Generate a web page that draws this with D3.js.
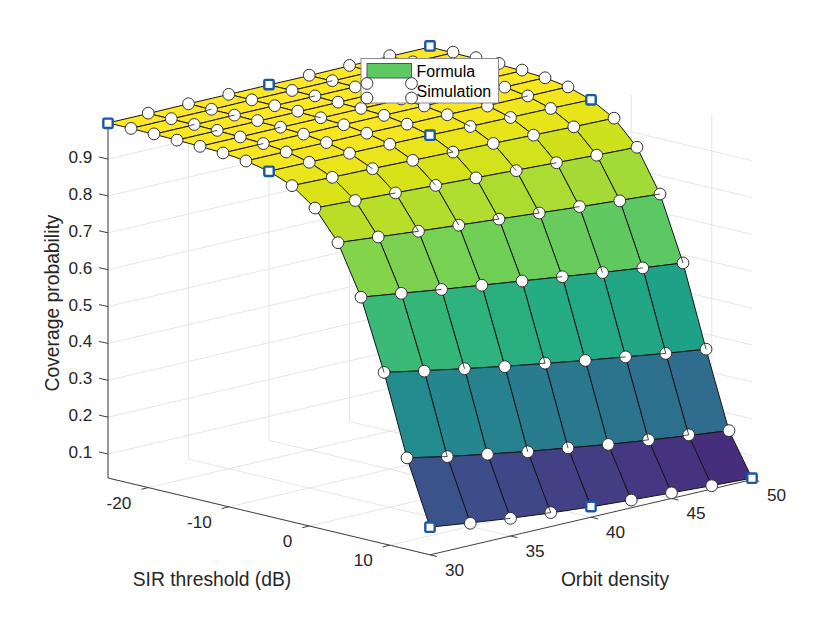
<!DOCTYPE html>
<html>
<head>
<meta charset="utf-8">
<script src="https://cdn.jsdelivr.net/npm/d3@7"></script>
<style>
  body { margin: 0; background: #fff; }
  text { font-family: "Liberation Sans", Arial, sans-serif; fill: #262626; }
</style>
</head>
<body>
<svg id="chart" width="830" height="623"></svg>
<script>
const sirValues = [-25, -22.14, -19.29, -16.43, -13.57, -10.71, -7.86, -5, -2.14, 0.71, 3.57, 6.43, 9.29, 12.14, 15];
const densityValues = [30, 32.5, 35, 37.5, 40, 42.5, 45, 47.5, 50];

// rows follow sirValues, columns follow densityValues
const formulaRows = [
  [0.998, 0.998, 0.999, 0.999, 0.999, 0.999, 1.000, 1.000, 1.000],
  [0.998, 0.998, 0.998, 0.999, 0.999, 0.999, 0.999, 0.999, 0.999],
  [0.997, 0.997, 0.998, 0.998, 0.998, 0.998, 0.998, 0.998, 0.998],
  [0.996, 0.996, 0.996, 0.996, 0.996, 0.997, 0.997, 0.997, 0.997],
  [0.994, 0.994, 0.994, 0.994, 0.994, 0.994, 0.994, 0.995, 0.995],
  [0.991, 0.991, 0.991, 0.991, 0.991, 0.991, 0.991, 0.991, 0.991],
  [0.984, 0.984, 0.983, 0.983, 0.982, 0.982, 0.981, 0.981, 0.981],
  [0.971, 0.970, 0.969, 0.968, 0.967, 0.965, 0.964, 0.963, 0.961],
  [0.947, 0.944, 0.942, 0.939, 0.936, 0.934, 0.931, 0.928, 0.926],
  [0.901, 0.896, 0.891, 0.886, 0.881, 0.876, 0.871, 0.866, 0.862],
  [0.822, 0.812, 0.802, 0.793, 0.784, 0.775, 0.766, 0.758, 0.750],
  [0.689, 0.674, 0.659, 0.645, 0.631, 0.617, 0.603, 0.590, 0.578],
  [0.500, 0.479, 0.459, 0.440, 0.422, 0.405, 0.389, 0.373, 0.359],
  [0.283, 0.261, 0.242, 0.224, 0.208, 0.192, 0.178, 0.165, 0.153],
  [0.110, 0.096, 0.083, 0.072, 0.063, 0.056, 0.050, 0.044, 0.039]
];

const simulationRows = [
  [0.997, 0.999, 0.999, 0.999, 1.000, 1.000, 1.001, 1.002, 1.003],
  [0.998, 0.999, 0.999, 0.999, 0.999, 1.000, 1.001, 1.000, 1.001],
  [0.998, 0.998, 0.998, 0.998, 0.999, 0.998, 0.999, 0.998, 1.001],
  [0.996, 0.997, 0.998, 0.998, 0.997, 0.998, 0.998, 0.998, 1.000],
  [0.994, 0.994, 0.995, 0.995, 0.995, 0.995, 0.995, 0.995, 0.997],
  [0.991, 0.991, 0.991, 0.991, 0.991, 0.991, 0.991, 0.991, 0.991],
  [0.984, 0.983, 0.983, 0.983, 0.982, 0.982, 0.980, 0.982, 0.981],
  [0.971, 0.970, 0.969, 0.968, 0.967, 0.965, 0.964, 0.963, 0.961],
  [0.947, 0.944, 0.942, 0.939, 0.936, 0.934, 0.931, 0.928, 0.926],
  [0.901, 0.896, 0.891, 0.886, 0.881, 0.875, 0.871, 0.866, 0.862],
  [0.822, 0.812, 0.802, 0.793, 0.784, 0.775, 0.767, 0.757, 0.750],
  [0.689, 0.674, 0.659, 0.645, 0.631, 0.617, 0.603, 0.590, 0.578],
  [0.500, 0.478, 0.459, 0.439, 0.423, 0.405, 0.389, 0.373, 0.359],
  [0.283, 0.261, 0.242, 0.223, 0.208, 0.192, 0.179, 0.167, 0.153],
  [0.110, 0.095, 0.083, 0.073, 0.064, 0.056, 0.050, 0.044, 0.039]
];

// coarser simulation run, drawn as squares
const coarseSir = [-25, -5, 15];
const coarseDensity = [30, 40, 50];

// markers where a mesh line cuts over the circle: [sir row, density column, "u" or "l"]
const meshOverMarker = [
  [1, 2, "l"], [1, 5, "l"], [2, 1, "l"], [2, 2, "l"], [2, 4, "l"], [3, 1, "l"], [4, 2, "l"], [4, 3, "u"],
  [5, 1, "l"], [6, 7, "l"], [7, 5, "u"], [7, 6, "u"], [8, 2, "u"], [8, 4, "u"], [8, 4, "l"],
  [9, 2, "l"], [9, 3, "u"], [9, 5, "u"], [9, 6, "l"],
  [10, 2, "u"], [10, 2, "l"], [10, 3, "u"], [10, 4, "u"], [10, 4, "l"], [10, 5, "u"], [10, 5, "l"], [10, 6, "l"], [10, 8, "l"],
  [11, 2, "l"], [11, 5, "l"], [11, 6, "u"], [11, 7, "l"], [11, 8, "u"],
  [12, 0, "u"], [12, 2, "u"], [12, 4, "u"], [12, 4, "l"], [12, 6, "l"], [12, 7, "u"], [12, 7, "l"], [12, 8, "u"],
  [13, 0, "l"], [13, 1, "u"], [13, 1, "l"], [13, 3, "u"], [13, 4, "u"], [13, 6, "u"], [13, 6, "l"], [13, 7, "u"], [13, 7, "l"],
  [14, 2, "l"], [14, 3, "u"], [14, 3, "l"]
];

const sirTicks = [-20, -10, 0, 10];
const densityTicks = [30, 35, 40, 45, 50];
const coverageTicks = [0.1, 0.2, 0.3, 0.4, 0.5, 0.6, 0.7, 0.8, 0.9];

const sirRange = [-25, 15];
const densityRange = [30, 50];
const coverageRange = [0.035, 1];

const svg = d3.select("#chart");

// orthographic view, each data axis moves the point along its own screen direction
const sirX = d3.scaleLinear().domain(sirRange).range([0, 322]);
const sirY = d3.scaleLinear().domain(sirRange).range([0, 76.8]);
const densityX = d3.scaleLinear().domain(densityRange).range([0, 322]);
const densityY = d3.scaleLinear().domain(densityRange).range([0, -75.2]);
const coverageY = d3.scaleLinear().domain(coverageRange).range([0, -355.8]);

const originX = 108;
const originY = 478;
const markerRadius = 5.9;

function project(sir, density, coverage) {
  return [
    originX + sirX(sir) + densityX(density),
    originY + sirY(sir) + densityY(density) + coverageY(coverage)
  ];
}

const colour = d3.scaleSequential(d3.interpolateViridis).domain([0.038, 1]);
const line = d3.line();

function seg(parent, a, b, stroke, width) {
  parent.append("path")
    .attr("d", line([a, b]))
    .attr("fill", "none")
    .attr("stroke", stroke)
    .attr("stroke-width", width);
}

// Grid on floor and the two back walls
const grid = svg.append("g");
const gridColour = "#e4e4e4";
const [zLow, zHigh] = coverageRange;
const [sLow, sHigh] = sirRange;
const [dLow, dHigh] = densityRange;

sirTicks.forEach(s => {
  seg(grid, project(s, dLow, zLow), project(s, dHigh, zLow), gridColour, 1);
  seg(grid, project(s, dHigh, zLow), project(s, dHigh, zHigh), gridColour, 1);
});
densityTicks.forEach(d => {
  seg(grid, project(sHigh, d, zLow), project(sLow, d, zLow), gridColour, 1);
  seg(grid, project(sLow, d, zLow), project(sLow, d, zHigh), gridColour, 1);
});
coverageTicks.forEach(z => {
  seg(grid, project(sLow, dLow, z), project(sLow, dHigh, z), gridColour, 1);
  seg(grid, project(sLow, dHigh, z), project(sHigh, dHigh, z), gridColour, 1);
});

// Axes and ticks
const axes = svg.append("g");
const axisColour = "#404040";
seg(axes, project(sLow, dLow, zLow), project(sHigh, dLow, zLow), axisColour, 1);
seg(axes, project(sHigh, dLow, zLow), project(sHigh, dHigh, zLow), axisColour, 1);
seg(axes, project(sLow, dLow, zLow), project(sLow, dLow, zHigh), axisColour, 1);

sirTicks.forEach(s => {
  const p = project(s, dLow, zLow);
  seg(axes, p, [p[0] - 7, p[1] + 1.7], axisColour, 1);
  axes.append("text").attr("x", p[0] - 17).attr("y", p[1] + 21)
    .attr("text-anchor", "end").attr("font-size", 17.2).text(s);
});
densityTicks.forEach(d => {
  const p = project(sHigh, d, zLow);
  seg(axes, p, [p[0] + 7, p[1] + 1.7], axisColour, 1);
  axes.append("text").attr("x", p[0] + 24.5).attr("y", p[1] + 21)
    .attr("text-anchor", "middle").attr("font-size", 17.2).text(d);
});
coverageTicks.forEach(z => {
  const p = project(sLow, dLow, z);
  seg(axes, p, [p[0] - 9, p[1] - 2], axisColour, 1);
  axes.append("text").attr("x", p[0] - 15.7).attr("y", p[1] + 4)
    .attr("text-anchor", "end").attr("font-size", 17.2).text(z);
});

svg.append("text").attr("x", 212).attr("y", 586)
  .attr("text-anchor", "middle").attr("font-size", 19.3).text("SIR threshold (dB)");
svg.append("text").attr("x", 615).attr("y", 586)
  .attr("text-anchor", "middle").attr("font-size", 19.3).text("Orbit density");
svg.append("text").attr("transform", "translate(59,303) rotate(-90)")
  .attr("text-anchor", "middle").attr("font-size", 19.3).text("Coverage probability");

// Surface, far corner first so nearer cells paint over it
const surface = svg.append("g");
d3.range(sirValues.length - 1).forEach(i => {
  d3.range(densityValues.length - 2, -1, -1).forEach(j => {
    const corners = [[i, j], [i + 1, j], [i + 1, j + 1], [i, j + 1]]
      .map(([a, b]) => project(sirValues[a], densityValues[b], formulaRows[a][b]));
    surface.append("path")
      .attr("d", line(corners) + "Z")
      .attr("fill", colour(formulaRows[i][j]))
      .attr("stroke", "#141414")
      .attr("stroke-width", 1)
      .attr("stroke-linejoin", "round");
  });
});

// Simulation markers
const markers = svg.append("g");
sirValues.forEach((s, i) => {
  densityValues.forEach((d, j) => {
    if (coarseSir.includes(s) && coarseDensity.includes(d)) return;
    const [px, py] = project(s, d, simulationRows[i][j]);
    markers.append("circle").attr("cx", px).attr("cy", py).attr("r", markerRadius)
      .attr("fill", "#fff").attr("stroke", "#333").attr("stroke-width", 1);
  });
});

// short piece of the neighbouring mesh edge, from the marker centre to its rim
meshOverMarker.forEach(([i, j, side]) => {
  const a = side === "u" ? i - 1 : i;
  const b = side === "u" ? j : j - 1;
  const from = project(sirValues[i], densityValues[j], simulationRows[i][j]);
  const to = project(sirValues[a], densityValues[b], formulaRows[a][b]);
  const len = Math.hypot(to[0] - from[0], to[1] - from[1]);
  const rim = [
    from[0] + (to[0] - from[0]) * markerRadius / len,
    from[1] + (to[1] - from[1]) * markerRadius / len
  ];
  seg(markers, from, rim, "#333", 0.9);
});

coarseSir.forEach(s => {
  coarseDensity.forEach(d => {
    const i = sirValues.indexOf(s), j = densityValues.indexOf(d);
    const [px, py] = project(s, d, simulationRows[i][j]);
    markers.append("rect").attr("x", px - 4.7).attr("y", py - 4.7)
      .attr("width", 9.4).attr("height", 9.4).attr("rx", 1.2)
      .attr("fill", "#fff").attr("stroke", "#1a57a5").attr("stroke-width", 2.4);
  });
});

// Legend
const legend = svg.append("g");
legend.append("rect").attr("x", 361).attr("y", 58.5).attr("width", 137.5).attr("height", 44.5)
  .attr("fill", "#fff").attr("stroke", "#8a8a8a").attr("stroke-width", 1);
legend.append("rect").attr("x", 367).attr("y", 63.5).attr("width", 44.5).attr("height", 14.5)
  .attr("fill", colour(0.76)).attr("stroke", "#555").attr("stroke-width", 1);
[[367, 83.5], [411.5, 83.5], [367, 98], [411.5, 98]].forEach(([cx, cy]) => {
  legend.append("circle").attr("cx", cx).attr("cy", cy).attr("r", markerRadius)
    .attr("fill", "#fff").attr("stroke", "#333").attr("stroke-width", 1);
});
legend.append("text").attr("x", 416.5).attr("y", 77).attr("font-size", 16).style("fill", "#000").text("Formula");
legend.append("text").attr("x", 416.5).attr("y", 97).attr("font-size", 16).style("fill", "#000").text("Simulation");
</script>
</body>
</html>
